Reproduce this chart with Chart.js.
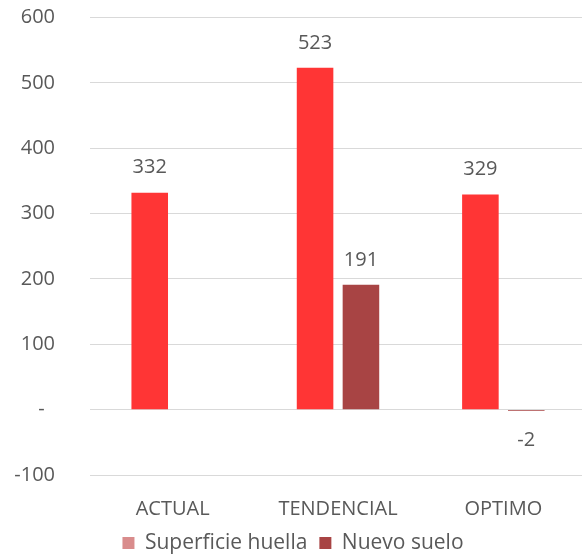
<!DOCTYPE html>
<html>
<head>
<meta charset="utf-8">
<script src="https://cdn.jsdelivr.net/npm/chart.js@4/dist/chart.umd.min.js"></script>
<style>
  html, body { margin: 0; padding: 0; background: #ffffff; overflow: hidden; }
  #wrap { width: 582px; height: 554px; overflow: hidden; }
</style>
</head>
<body>
<div id="wrap"><canvas id="c" width="587" height="554"></canvas></div>
<script>
// Categories and series values
const categories = ['ACTUAL', 'TENDENCIAL', 'OPTIMO'];
const superficieHuella = [332, 523, 329];
const nuevoSuelo = [null, 191, -2];
const seriesNames = ['Superficie huella', 'Nuevo suelo'];

const TEXT = '#595959';
const FONT = 'Open Sans';

// Draws each bar's value above (or below, for negatives) the bar
const valueLabels = {
  id: 'valueLabels',
  afterDatasetsDraw(chart) {
    const ctx = chart.ctx;
    ctx.save();
    ctx.font = '20px "' + FONT + '"';
    ctx.fillStyle = TEXT;
    ctx.textAlign = 'center';
    ctx.textBaseline = 'middle';
    chart.data.datasets.forEach((ds, i) => {
      const meta = chart.getDatasetMeta(i);
      meta.data.forEach((bar, j) => {
        const v = ds.data[j];
        if (v === null || v === undefined) return;
        const y = v >= 0 ? bar.y - 25 : bar.y + 29.5;
        ctx.fillText(String(v), bar.x, y);
      });
    });
    ctx.restore();
  }
};

new Chart(document.getElementById('c'), {
  type: 'bar',
  data: {
    labels: categories,
    datasets: [
      {
        label: seriesNames[0],
        data: superficieHuella,
        backgroundColor: '#FF3535',
        legendColor: '#D98C8C'
      },
      {
        label: seriesNames[1],
        data: nuevoSuelo,
        backgroundColor: '#A84444',
        legendColor: '#A84444'
      }
    ]
  },
  options: {
    responsive: false,
    animation: false,
    layout: { padding: { top: 17.5, right: 1, left: 0, bottom: -9.5 } },
    datasets: {
      bar: { categoryPercentage: 0.555, barPercentage: 0.797 }
    },
    scales: {
      x: {
        grid: { display: false, drawTicks: false },
        border: { display: false },
        ticks: { color: TEXT, font: { family: FONT, size: 20 }, padding: 22, maxRotation: 0 },
        afterFit(scale) { scale.height = 45.5; }
      },
      y: {
        min: -100,
        max: 600,
        grid: { color: '#D9D9D9', drawTicks: false, lineWidth: 1 },
        border: { display: false },
        ticks: {
          stepSize: 100,
          color: TEXT,
          font: { family: FONT, size: 20 },
          padding: 35,
          callback: v => (v === 0 ? '-  ' : String(v))
        },
        afterFit(scale) {
          scale.width = 90;
          scale.paddingTop = 0;
          scale.paddingBottom = 0;
        }
      }
    },
    plugins: {
      tooltip: { enabled: false },
      legend: {
        position: 'bottom',
        labels: {
          color: TEXT,
          font: { family: FONT, size: 21 },
          boxWidth: 12,
          boxHeight: 12,
          padding: 12,
          generateLabels(chart) {
            return chart.data.datasets.map((ds, i) => ({
              text: ds.label,
              fillStyle: ds.legendColor,
              strokeStyle: ds.legendColor,
              lineWidth: 0,
              fontColor: TEXT,
              hidden: false,
              datasetIndex: i
            }));
          }
        }
      }
    }
  },
  plugins: [valueLabels]
});
</script>
</body>
</html>
